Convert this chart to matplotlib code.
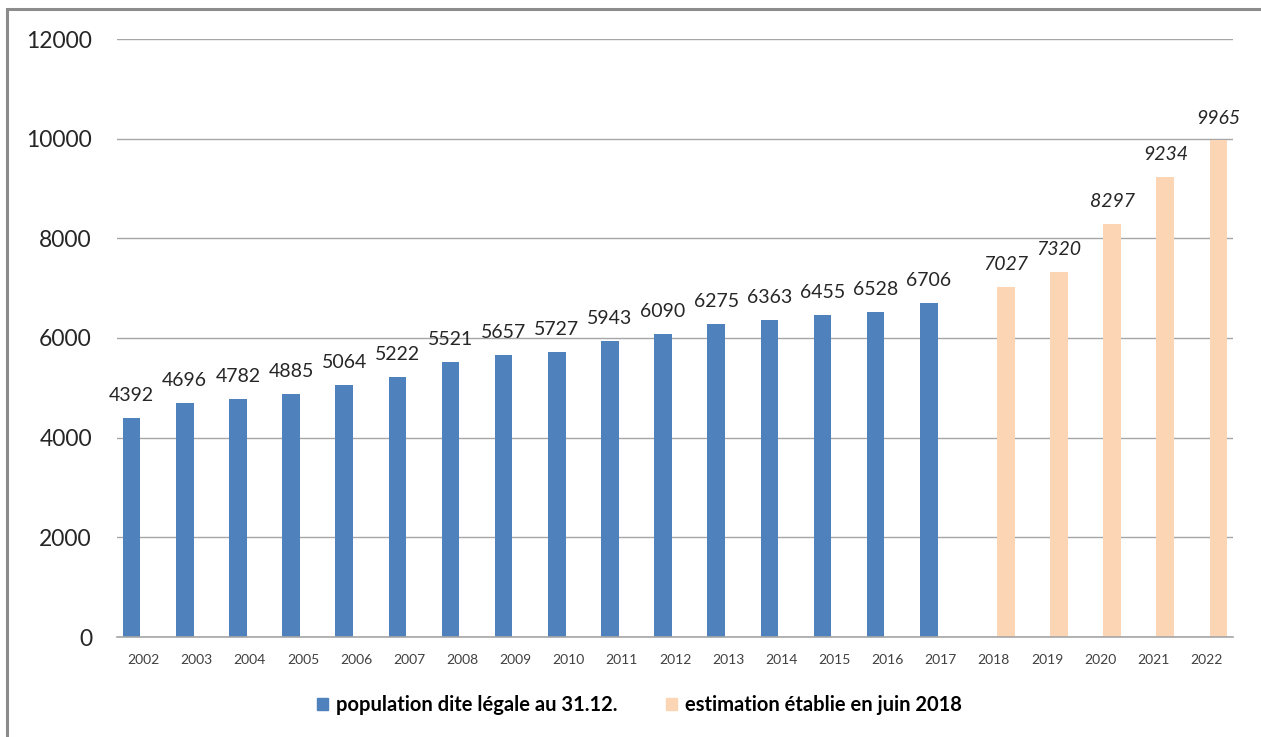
import matplotlib
matplotlib.use("Agg")
from matplotlib import pyplot as plt
from matplotlib.patches import Rectangle, Patch
import numpy as np

plt.rcParams['font.family'] = ['Lato', 'DejaVu Sans']

# Données
annees = [str(a) for a in range(2002, 2023)]
annees_legales = annees[:16]
population_legale = [4392, 4696, 4782, 4885, 5064, 5222, 5521, 5657, 5727, 5943,
                     6090, 6275, 6363, 6455, 6528, 6706]
annees_estim = annees[16:]
estimation = [7027, 7320, 8297, 9234, 9965]

label_legale = "population dite légale au 31.12."
label_estim = "estimation établie en juin 2018"

bleu = "#4F81BD"
peche = "#FCD5B5"

fig = plt.figure(figsize=(12.61, 7.37), dpi=100)
ax = fig.add_axes([117 / 1261, 1 - 637 / 737, 1116 / 1261, 598 / 737])

# cadre gris autour du graphique
fig.patches.append(Rectangle((7 / 1261, -0.05), 1.2, (737 - 9) / 737 + 0.05,
                             transform=fig.transFigure, fill=False,
                             edgecolor="#8C8C8C", linewidth=2.2))

pos = {a: i for i, a in enumerate(annees)}
largeur = 0.33
x1 = np.array([pos[a] for a in annees_legales]) - 0.225
x2 = np.array([pos[a] for a in annees_estim]) + 0.225

b1 = ax.bar(x1, population_legale, width=largeur, color=bleu, zorder=3)
b2 = ax.bar(x2, estimation, width=largeur, color=peche, zorder=3)

for rect, v in zip(b1, population_legale):
  ax.annotate(str(v), (rect.get_x() + rect.get_width() / 2, v),
              xytext=(0, 10), textcoords="offset points",
              ha="center", va="bottom", fontsize=14, color="#262626")
for rect, v in zip(b2, estimation):
  ax.annotate(str(v), (rect.get_x() + rect.get_width() / 2, v),
              xytext=(0, 10), textcoords="offset points",
              ha="center", va="bottom", fontsize=14, color="#262626",
              style="italic")

ax.set_xlim(-0.5, len(annees) - 0.5)
ax.set_ylim(0, 12000)
ax.set_yticks(range(0, 12001, 2000))
ax.set_xticks(range(len(annees)))
ax.set_xticklabels(annees, fontsize=10, color="#404040")
ax.tick_params(axis="y", labelsize=16.5, length=0, pad=18, labelcolor="#262626")
ax.tick_params(axis="x", length=0, pad=12)
ax.yaxis.grid(True, color="#A6A6A6", linewidth=1, zorder=0)
ax.set_axisbelow(True)
for s in ["top", "right", "left"]:
  ax.spines[s].set_visible(False)
ax.spines["bottom"].set_color("#A6A6A6")
ax.spines["bottom"].set_linewidth(1.2)
ax.spines["bottom"].set_zorder(4)

handles = [Patch(color=bleu, label=label_legale), Patch(color=peche, label=label_estim)]
fig.legend(handles=handles, loc="center", bbox_to_anchor=(0.507, 0.043), ncol=2,
           frameon=False, handlelength=0.55, handleheight=0.55, handletextpad=0.4,
           columnspacing=2.4, prop={"size": 14.5, "weight": "bold"})

plt.savefig("out.png", dpi=100)
